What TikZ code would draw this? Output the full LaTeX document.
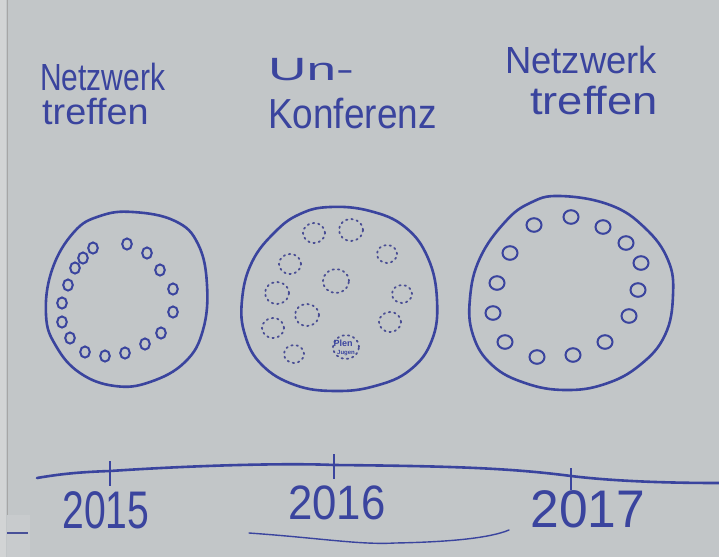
\documentclass[tikz,border=0pt]{standalone}
\usepackage{fontspec}
\setmainfont{Liberation Sans}
\definecolor{board}{RGB}{194,198,200}
\definecolor{boardedge}{RGB}{210,212,213}
\definecolor{pen}{RGB}{58,68,158}
\definecolor{penlight}{RGB}{74,78,148}
\tikzset{
  outline/.style={draw=pen, line width=2.6pt, line join=round},
  seat/.style={draw=pen, line width=2pt},
  dotc/.style={draw=penlight, line width=1.8pt, line cap=round, dash pattern=on 1.4pt off 4pt},
  hand/.style={text=pen, inner sep=0pt, font=\fontsize{28}{28}\selectfont},
  year/.style={text=pen, inner sep=0pt, font=\fontsize{46}{46}\selectfont},
  timeline/.style={draw=pen, line width=2.6pt, line cap=round},
  tick/.style={draw=pen, line width=1.6pt},
}
\begin{document}
\begin{tikzpicture}[x=1pt,y=-1pt]
\useasboundingbox (0,0) rectangle (719,557);
% board
\fill[board] (0,0) rectangle (719,557);
\fill[boardedge] (0,0) rectangle (6,557);
\draw[gray!70, line width=0.8pt] (7,0) -- (7,557);
\fill[boardedge!40!board] (7,515) rectangle (30,557);

% titles
\node[hand, anchor=base west] (t1a) at (40,90) {\scalebox{1.07}[1.35]{Netzwerk}};
\node[hand, anchor=base west] (t1b) at (42,124) {\scalebox{1.35}[1.3]{treffen}};
\node[hand, anchor=base west] (t2a) at (268,80) {\scalebox{1.9}[1.15]{Un-}};
\node[hand, anchor=base west] (t2b) at (268,128) {\scalebox{1.32}[1.5]{Konferenz}};
\node[hand, anchor=base west] (t3a) at (505,73) {\scalebox{1.3}[1.35]{Netzwerk}};
\node[hand, anchor=base west] (t3b) at (530,114) {\scalebox{1.62}[1.4]{treffen}};

% left circle: Netzwerktreffen 2015
\draw[outline] plot[smooth cycle, tension=0.7] coordinates {
 (133,212) (175,221) (198,244) (207,285) (203,330) (185,362) (150,382)
 (115,386) (80,373) (56,346) (46,315) (52,270) (74,232) (100,216)};
\foreach \x/\y in {93/248, 83/258, 75/268, 68/285, 62/303, 62/322, 70/338,
  85/352, 105/356, 125/353, 145/344, 161/333, 173/312, 173/289, 160/270,
  147/253, 127/244}
  \draw[seat] (\x,\y) ellipse [x radius=4.8pt, y radius=5.6pt];

% middle circle: Unkonferenz 2016
\draw[outline] plot[smooth cycle, tension=0.7] coordinates {
 (330,207) (370,211) (405,227) (428,258) (437,300) (432,340) (410,370)
 (375,386) (335,391) (295,385) (262,365) (245,335) (242,300) (252,262)
 (275,232) (300,214)};
\foreach \x/\y/\r in {314/233/11, 351/230/12, 387/254/10, 290/264/11,
  336/281/13, 277/293/12, 402/294/10, 307/315/12, 390/322/11, 273/328/11,
  294/354/10, 346/347/13}
  \draw[dotc] (\x,\y) ellipse [x radius=\r pt, y radius=\r pt-1pt];
\node[text=pen, inner sep=0pt, font=\bfseries\fontsize{9}{9}\selectfont] (pl) at (343,343) {Plen};
\node[text=pen, inner sep=0pt, font=\bfseries\fontsize{6}{6}\selectfont] (ps) at (346,353) {Jugen};

% right circle: Netzwerktreffen 2017
\draw[outline] plot[smooth cycle, tension=0.7] coordinates {
 (560,196) (610,205) (645,228) (668,260) (673,295) (665,335) (640,365)
 (605,384) (565,390) (525,383) (492,365) (473,335) (470,298) (480,258)
 (505,222) (530,203)};
\foreach \x/\y in {534/225, 571/217, 603/227, 626/243, 641/263, 638/290,
  629/316, 605/342, 573/355, 537/357, 505/342, 493/313, 497/283, 510/253}
  \draw[seat] (\x,\y) ellipse [x radius=7.5pt, y radius=6.8pt];

% timeline
\coordinate (l0) at (37,478);
\coordinate (k15) at (110,471);
\coordinate (k16) at (334,465);
\coordinate (k17) at (571,476);
\coordinate (l1) at (719,483);
\draw[timeline] (l0) .. controls (60,474) and (80,472) .. (k15)
  .. controls (200,465) and (290,463) .. (k16)
  .. controls (450,466) and (510,468) .. (k17)
  .. controls (620,482) and (680,483) .. (l1);
\draw[tick] (110,461) -- (110,486);
\draw[tick] (334,454) -- (334,479);
\draw[tick] (571,468) -- (571,490);

\node[year, anchor=base] (y15) at (106,528) {\scalebox{0.85}[1.15]{2015}};
\node[year, anchor=base] (y16) at (337,519) {\scalebox{0.95}[1.05]{2016}};
\node[year, anchor=base] (y17) at (588,527) {\scalebox{1.12}[1.15]{2017}};

% underline below 2016
\coordinate (u0) at (249,533);
\coordinate (u1) at (509,530);
\draw[draw=pen, line width=1.4pt, line cap=round] (u0) .. controls (320,538) and (360,545) .. (395,543) .. controls (450,542) and (490,538) .. (u1);

% small line at bottom left
\coordinate (s0) at (7,533);
\coordinate (s1) at (28,533);
\draw[draw=pen!80!gray, line width=1.3pt] (s0) -- (s1);
\end{tikzpicture}
\end{document}
